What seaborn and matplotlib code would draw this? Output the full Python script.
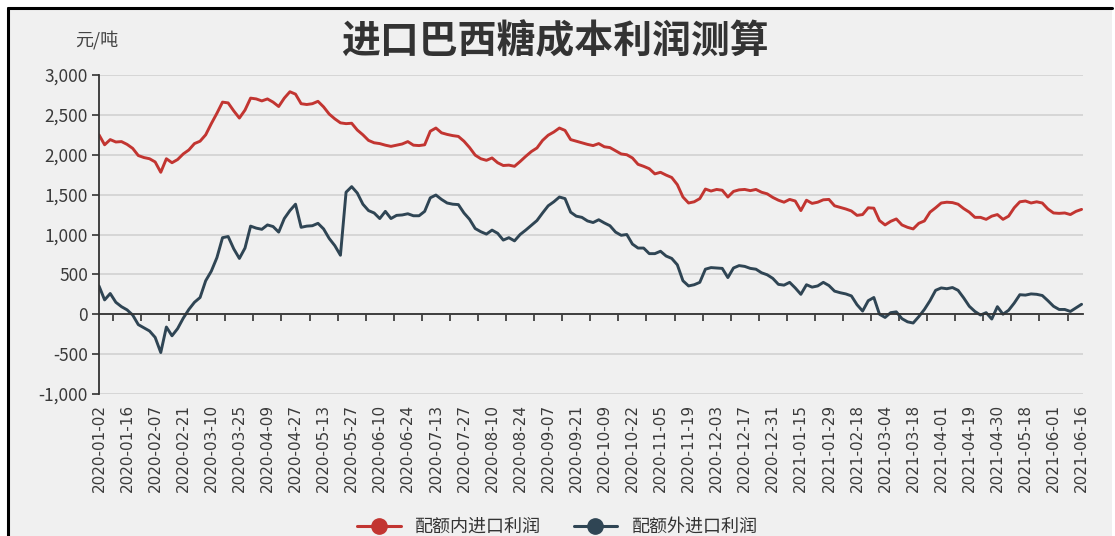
import numpy as np
import pandas as pd
import matplotlib
matplotlib.use("Agg")
import matplotlib.pyplot as plt
from matplotlib.lines import Line2D
from matplotlib.patches import Rectangle
import seaborn as sns

# ---------------- data ----------------
title = "进口巴西糖成本利润测算"
unit_label = "元/吨"
series_names = ["配额内进口利润", "配额外进口利润"]

tick_labels = [
    "2020-01-02", "2020-01-16", "2020-02-07", "2020-02-21", "2020-03-10", "2020-03-25",
    "2020-04-09", "2020-04-27", "2020-05-13", "2020-05-27", "2020-06-10", "2020-06-24",
    "2020-07-13", "2020-07-27", "2020-08-10", "2020-08-24", "2020-09-07", "2020-09-21",
    "2020-10-09", "2020-10-22", "2020-11-05", "2020-11-19", "2020-12-03", "2020-12-17",
    "2020-12-31", "2021-01-15", "2021-01-29", "2021-02-18", "2021-03-04", "2021-03-18",
    "2021-04-01", "2021-04-19", "2021-04-30", "2021-05-18", "2021-06-01", "2021-06-16",
]
days_per_label = 10      # trading days between two labels
days_per_sample = 2      # trading days between two read values

quota_in = [
    2250, 2125, 2190, 2160, 2165, 2130, 2080, 1990, 1965, 1950,
    1910, 1780, 1950, 1900, 1940, 2010, 2060, 2140, 2170, 2250,
    2390, 2520, 2660, 2650, 2550, 2460, 2560, 2710, 2700, 2675,
    2700, 2660, 2605, 2710, 2790, 2760, 2640, 2630, 2640, 2670,
    2600, 2510, 2450, 2400, 2390, 2395, 2310, 2250, 2180, 2150,
    2140, 2120, 2105, 2120, 2135, 2165, 2120, 2115, 2125, 2295,
    2335, 2275, 2255, 2240, 2230, 2170, 2090, 1995, 1950, 1930,
    1960, 1900, 1865, 1870, 1855, 1915, 1980, 2040, 2085, 2180,
    2245, 2285, 2335, 2305, 2190, 2170, 2150, 2130, 2115, 2140,
    2100, 2090, 2050, 2010, 2000, 1960, 1880, 1855, 1825, 1760,
    1780, 1745, 1715, 1625, 1470, 1395, 1410, 1450, 1570, 1545,
    1565, 1555, 1470, 1540, 1560, 1565, 1550, 1565, 1530, 1510,
    1465, 1430, 1405, 1440, 1420, 1300, 1430, 1390, 1405, 1435,
    1440, 1360, 1340, 1320, 1295, 1240, 1250, 1335, 1330, 1175,
    1120, 1165, 1195, 1120, 1090, 1070, 1140, 1170, 1280, 1335,
    1395, 1405, 1400, 1380, 1325, 1280, 1215, 1215, 1190, 1230,
    1250, 1190, 1230, 1335, 1410, 1420, 1395, 1410, 1395, 1320,
    1270, 1265, 1270, 1250, 1290, 1315,
]

quota_out = [
    355, 180, 260, 150, 95, 55, -10, -130, -170, -210,
    -290, -480, -160, -270, -180, -50, 60, 150, 210, 420,
    540, 710, 960, 975, 820, 700, 830, 1105, 1080, 1065,
    1120, 1100, 1030, 1200, 1300, 1380, 1090, 1105, 1110, 1140,
    1070, 950, 860, 740, 1530, 1600, 1520, 1380, 1300, 1270,
    1200, 1290, 1200, 1240, 1245, 1260, 1235, 1235, 1290, 1460,
    1495, 1440, 1395, 1380, 1375, 1270, 1190, 1075, 1035, 1005,
    1055, 1015, 930, 960, 920, 1000, 1055, 1115, 1175, 1270,
    1360, 1410, 1470, 1450, 1280, 1230, 1215, 1170, 1150, 1185,
    1145, 1110, 1030, 990, 1000, 880, 830, 830, 760, 760,
    790, 730, 700, 620, 420, 355, 370, 400, 565, 585,
    580, 575, 460, 580, 610, 600, 575, 565, 520, 495,
    450, 375, 365, 400, 330, 250, 370, 340, 355, 400,
    360, 290, 270, 255, 230, 120, 40, 170, 210, 0,
    -40, 20, 30, -55, -95, -110, -30, 60, 170, 300,
    330, 320, 335, 300, 205, 100, 35, -10, 20, -60,
    95, 0, 50, 140, 245, 240, 255, 250, 235, 170,
    100, 60, 60, 35, 80, 125,
]

colors = ["#c23531", "#2f4554"]
y_ticks = [-1000, -500, 0, 500, 1000, 1500, 2000, 2500, 3000]

# ---------------- build frame ----------------
pos = np.arange(len(quota_in)) * days_per_sample
df = pd.concat([
    pd.DataFrame({"pos": pos, "value": quota_in, "series": series_names[0]}),
    pd.DataFrame({"pos": pos, "value": quota_out, "series": series_names[1]}),
])
n_days = (len(tick_labels) - 1) * days_per_label

# ---------------- style ----------------
sns.set_theme(style="white")
plt.rcParams["font.family"] = ["Noto Sans CJK SC", "DejaVu Sans"]
plt.rcParams["axes.unicode_minus"] = False

W, H = 1115, 536
fig = plt.figure(figsize=(W / 100, H / 100), dpi=100, facecolor="white")

bg = "#f0f0f0"
fig.patches.append(Rectangle((8 / W, 0), (1112 - 8) / W, 1 - 8 / H,
                             transform=fig.transFigure, facecolor=bg,
                             edgecolor="none", zorder=-10))
fig.add_artist(Line2D([8 / W, 8 / W], [0, 1 - 8 / H], transform=fig.transFigure,
                      color="black", lw=2.2))
fig.add_artist(Line2D([8 / W, 1112 / W], [1 - 8 / H, 1 - 8 / H], transform=fig.transFigure,
                      color="black", lw=2.2))

left, right, top, bottom = 99, 1083, 75, 394
ax = fig.add_axes([left / W, 1 - bottom / H, (right - left) / W, (bottom - top) / H])
ax.set_facecolor(bg)

sns.lineplot(data=df, x="pos", y="value", hue="series", palette=colors,
             linewidth=2.1, ax=ax, legend=False)

ax.set_xlim(0, n_days + 0.5)
ax.set_ylim(-1000, 3000)
ax.set_yticks(y_ticks)
ax.set_yticklabels([f"{v:,}" for v in y_ticks], fontsize=12.5, color="#3a3a3a")
ax.yaxis.grid(True, color="#cfcfcf", lw=1.1)
ax.set_axisbelow(True)
ax.set_xlabel("")
ax.set_ylabel("")

for s in ["top", "right"]:
    ax.spines[s].set_visible(False)
ax.spines["left"].set_color("#333333")
ax.spines["left"].set_linewidth(1.3)
ax.spines["bottom"].set_position(("data", 0))
ax.spines["bottom"].set_color("#333333")
ax.spines["bottom"].set_linewidth(1.3)
ax.tick_params(axis="y", length=5, width=1.2, color="#333333", pad=3, left=True)

# tick marks on the zero axis, between labels
ax.set_xticks(np.arange(days_per_label // 2, n_days, days_per_label))
ax.tick_params(axis="x", length=5, width=1.2, color="#333333", labelbottom=False, bottom=True,
               direction="out")

# date labels at bottom
sec = ax.secondary_xaxis("bottom")
sec.set_xticks(np.arange(0, n_days + 1, days_per_label))
sec.set_xticklabels(tick_labels, rotation=90, fontsize=11, color="#3a3a3a",
                    family=["DejaVu Sans"])
sec.tick_params(length=0, pad=7)
sec.spines["bottom"].set_visible(False)

# title and unit
fig.text(555 / W, 1 - 42 / H, title, ha="center", va="center", fontsize=28,
         fontweight="bold", color="#333333")
fig.text(97 / W, 1 - 40 / H, unit_label, ha="center", va="center", fontsize=13,
         color="#444444")

handles = [Line2D([0], [0], color=c, lw=2.2, marker="o", markersize=11) for c in colors]
fig.legend(handles, series_names, loc="center", bbox_to_anchor=(0.5, 1 - 527 / H),
           ncol=2, frameon=False, fontsize=13, handlelength=2.4, columnspacing=1.8,
           labelcolor="#333333", borderpad=0.1)

fig.savefig("out.png", dpi=100, facecolor="white")
